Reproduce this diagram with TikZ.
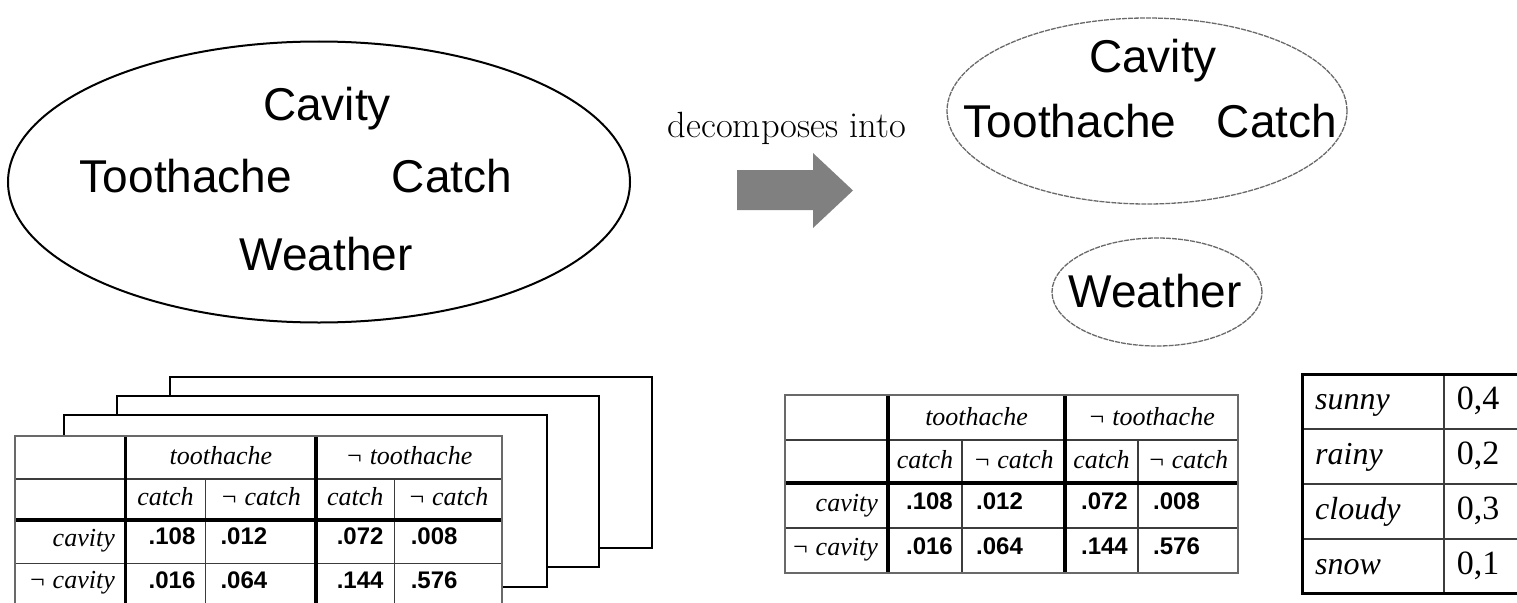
\documentclass[tikz,border=0pt]{standalone}
\usepackage{fontspec}
\usepackage{xcolor}
\usetikzlibrary{shapes.geometric}
\newfontfamily\arialfont{Liberation Sans}
\newfontfamily\timesfont{Liberation Serif}
\definecolor{arrowGray}{RGB}{128,128,128}
\definecolor{rimGray}{RGB}{105,105,105}
\definecolor{ruleGray}{RGB}{60,60,60}

\tikzset{
  bigword/.style={font=\arialfont\fontsize{46}{50}\selectfont, inner sep=0pt, anchor=base},
  cellword/.style={font=\timesfont\itshape\fontsize{26}{28}\selectfont, inner sep=0pt},
  cellnum/.style={font=\arialfont\bfseries\fontsize{24}{26}\selectfont, inner sep=0pt},
  wword/.style={font=\timesfont\itshape\fontsize{32}{34}\selectfont, inner sep=0pt, anchor=base west},
  wnum/.style={font=\timesfont\fontsize{34}{36}\selectfont, inner sep=0pt, anchor=base},
  thinrule/.style={draw=ruleGray, line width=1.3pt},
  thickrule/.style={draw=black, line width=3.5pt},
  tableframe/.style={draw=rimGray, line width=2pt},
  sheet/.style={draw=black, fill=white, line width=2.5pt},
  cloud/.style={draw=rimGray, ellipse, line width=1.3pt, dash pattern=on 5pt off 1pt, inner sep=0pt}
}

% one joint table, drawn in its own frame (0,0)--(453,178)
\newcommand{\probtable}[1]{%
  \fill[white] (0,0) rectangle (453,178);
  \draw[thinrule] (0,45) -- (453,45) (0,133) -- (453,133) (177,45) -- (177,178) (353,45) -- (353,178);
  \draw[thickrule] (103,0) -- (103,178) (280,0) -- (280,178) (0,88) -- (453,88);
  \draw[tableframe] (0,0) rectangle (453,178);
  \node[cellword, anchor=base] (#1-t) at (191.5,30) {toothache};
  \node[cellword, anchor=base] (#1-nt) at (366.5,30) {¬ toothache};
  \node[cellword, anchor=base] (#1-c1) at (140,73) {catch};
  \node[cellword, anchor=base] (#1-nc1) at (228.5,73) {¬ catch};
  \node[cellword, anchor=base] (#1-c2) at (316.5,73) {catch};
  \node[cellword, anchor=base] (#1-nc2) at (403,73) {¬ catch};
  \node[cellword, anchor=base east] (#1-cav) at (93,116) {cavity};
  \node[cellword, anchor=base east] (#1-ncav) at (93,160) {¬ cavity};
  \node[cellnum, anchor=base east] (#1-v11) at (168,114) {.108};
  \node[cellnum, anchor=base west] (#1-v12) at (191,114) {.012};
  \node[cellnum, anchor=base east] (#1-v13) at (343,114) {.072};
  \node[cellnum, anchor=base west] (#1-v14) at (368,114) {.008};
  \node[cellnum, anchor=base east] (#1-v21) at (168,159) {.016};
  \node[cellnum, anchor=base west] (#1-v22) at (191,159) {.064};
  \node[cellnum, anchor=base east] (#1-v23) at (343,159) {.144};
  \node[cellnum, anchor=base west] (#1-v24) at (368,159) {.576};
}

\begin{document}
\begin{tikzpicture}[x=1pt, y=-1pt]
  \useasboundingbox (0,0) rectangle (1517,602);

  % full joint distribution
  \node[draw, ellipse, line width=2pt, minimum width=622pt, minimum height=281pt] (joint) at (319,182) {};
  \node[bigword] (jcav) at (327,120) {Cavity};
  \node[bigword] (jtooth) at (186,192) {Toothache};
  \node[bigword] (jcatch) at (452,192) {Catch};
  \node[bigword] (jweath) at (326,270) {Weather};

  % decomposes into
  \node[font=\fontsize{36.5}{40}\selectfont, inner sep=0pt, anchor=base] (decomp) at (787,137) {decomposes into};
  \fill[arrowGray] (737,170) -- (813,170) -- (813,153) -- (853,190.5) -- (813,228) -- (813,210) -- (737,210) -- cycle;

  % factored parts
  \node[cloud, minimum width=400pt, minimum height=186pt] (dental) at (1147,111) {};
  \node[bigword] (dcav) at (1153,72) {Cavity};
  \node[bigword] (dtooth) at (1070,137) {Toothache};
  \node[bigword] (dcatch) at (1277,137) {Catch};
  \node[cloud, minimum width=210pt, minimum height=108pt] (weather) at (1157,292) {};
  \node[bigword] (wweath) at (1155,307) {Weather};

  % stack of tables, one per weather value
  \draw[sheet] (170,377) rectangle (652,548);
  \draw[sheet] (117,396) rectangle (599,567);
  \draw[sheet] (64,415) rectangle (547,587);
  \begin{scope}[shift={(15,436)}, xscale=1.075, yscale=0.956]
    \probtable{big}
  \end{scope}

  \begin{scope}[shift={(785,395)}]
    \probtable{small}
  \end{scope}

  % weather table
  \begin{scope}[shift={(1302,374)}]
    \fill[white] (0,0) rectangle (224,219);
    \draw[thinrule] (0,55) -- (224,55) (0,110) -- (224,110) (0,165) -- (224,165) (142,0) -- (142,219);
    \draw[draw=black, line width=3pt] (0,0) rectangle (224,219);
    \node[wword] (sunny) at (13,35) {sunny};
    \node[wword] (rainy) at (13,90) {rainy};
    \node[wword] (cloudy) at (13,145) {cloudy};
    \node[wword] (snow) at (13,200) {snow};
    \node[wnum] (psunny) at (176,35) {0,4};
    \node[wnum] (prainy) at (176,90) {0,2};
    \node[wnum] (pcloudy) at (176,145) {0,3};
    \node[wnum] (psnow) at (176,200) {0,1};
  \end{scope}
\end{tikzpicture}
\end{document}
